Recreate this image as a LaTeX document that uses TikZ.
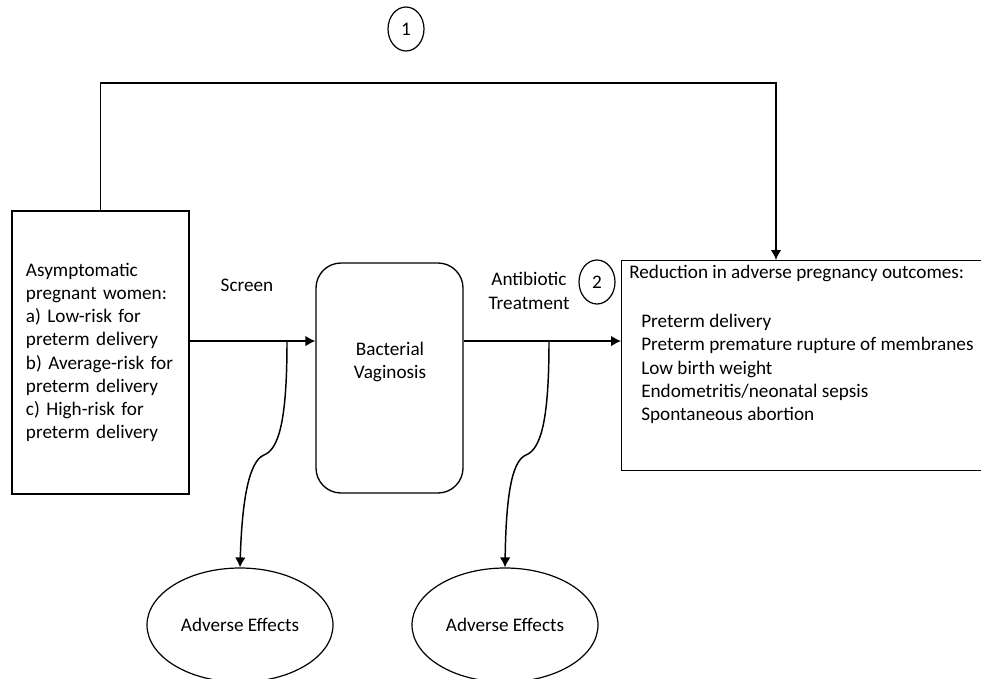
\documentclass[tikz,border=0pt]{standalone}
\usepackage{fontspec}
\setmainfont{Carlito}
\usepackage{tikz}
\usetikzlibrary{arrows.meta}
\usetikzlibrary{positioning}
\usetikzlibrary{shapes.geometric}
\newcommand{\flowfont}{\fontsize{14.4}{17.4}\selectfont}
\tikzstyle{every node}+=[inner sep=0pt]
\tikzstyle{block} = [rectangle, draw, line width=1pt, font=\flowfont]
\tikzstyle{roundblock} = [block, rounded corners=18.75pt, minimum width=110.25pt, minimum height=172.5pt]
\tikzstyle{harm} = [ellipse, draw, line width=0.9pt, font=\flowfont, minimum width=139.5pt, minimum height=85.5pt]
\tikzstyle{marker} = [ellipse, draw, line width=0.9pt, font=\flowfont, minimum width=27pt, minimum height=33pt]
\tikzstyle{value} = [font=\flowfont, align=left]
\tikzstyle{line} = [draw, line width=1.1pt, -{Latex[length=7.5pt, width=8pt]}]

\begin{document}
\begin{tikzpicture}[x=0.75pt, y=-0.75pt]
            \useasboundingbox (0,0) rectangle (981,678);
            \clip (0,0) rectangle (981,678);
            % Place nodes
            \node [block, text width=111.75pt, inner xsep=10.5pt, minimum height=212.25pt, align=left] (asym) at (100.5,352.5) {Asymptomatic\\pregnant women:\\a) Low-risk for\\preterm delivery\\b) Average-risk for\\preterm delivery\\c) High-risk for\\preterm delivery};
            \node [roundblock] (bv) at (389.5,378) {};
            \node [value, align=center] (bvname) at (390,362) {Bacterial\\Vaginosis};
            \node [block, anchor=north west, minimum width=285pt, minimum height=157.5pt] (outc) at (621,260) {};
            \node [value, anchor=base west] (outhead) at (629,278) {Reduction in adverse pregnancy outcomes:};
            \node [value, anchor=north west] (outlist) at (641,314) {Preterm delivery\\Preterm premature rupture of membranes\\Low birth weight\\Endometritis/neonatal sepsis\\Spontaneous abortion};
            \node [value] (scrlbl) at (247,285) {Screen};
            \node [value, align=center] (abxlbl) at (529,291) {Antibiotic\\Treatment};
            \node [marker] (kq1) at (406,29) {1};
            \node [marker] (kq2) at (597,282) {2};
            \node [harm] (ae1) at (240,625) {Adverse Effects};
            \node [harm] (ae2) at (505,625) {Adverse Effects};
            \coordinate (bend) at (776,83);
            \coordinate (scr) at ([yshift=8.6pt]asym.east);
            \coordinate (fork1) at (287,341.5);
            \coordinate (fork2) at (549,341.5);
            % Draw edges
            \path [line] (asym.north) |- (bend) -- (bend |- outc.north);
            \path [line] (scr) -- (scr -| bv.west);
            \path [line] (scr -| bv.east) -- (scr -| outc.west);
            \path [line] (fork1) .. controls (287,420) and (279,449) .. (264,455) .. controls (249,461) and (242,500) .. (ae1.north);
            \path [line] (fork2) .. controls (549,420) and (541,449) .. (526,455) .. controls (511,461) and (506,500) .. (ae2.north);
          \end{tikzpicture}
\end{document}
